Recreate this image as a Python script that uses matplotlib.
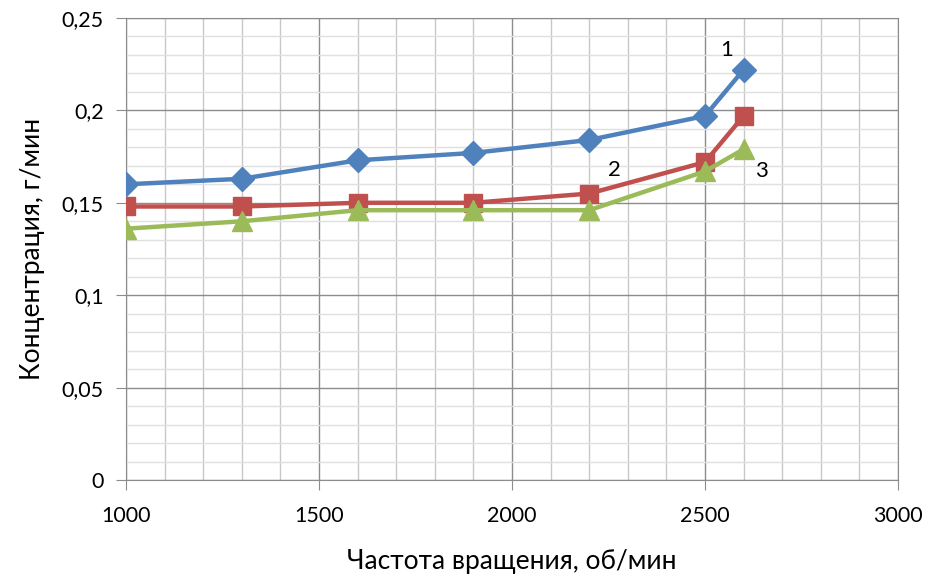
import matplotlib.pyplot as plt
from matplotlib.ticker import MultipleLocator, FuncFormatter

plt.rcParams['font.family'] = ['Lato', 'DejaVu Sans']

rpm = [1000, 1300, 1600, 1900, 2200, 2500, 2600]
conc_1 = [0.160, 0.163, 0.173, 0.177, 0.184, 0.197, 0.222]
conc_2 = [0.148, 0.148, 0.150, 0.150, 0.155, 0.172, 0.197]
conc_3 = [0.136, 0.140, 0.146, 0.146, 0.146, 0.167, 0.179]

fig = plt.figure(figsize=(9.31, 5.79), dpi=100)
ax = fig.add_axes([126 / 931, 1 - 480 / 579, (898 - 126) / 931, (480 - 18) / 579])

ax.plot(rpm, conc_1, color='#4F81BD', lw=3.2, marker='D', ms=12, zorder=3)
ax.plot(rpm, conc_2, color='#C0504D', lw=3.2, marker='s', ms=13, zorder=4)
ax.plot(rpm, conc_3, color='#9BBB59', lw=3.2, marker='^', ms=14, zorder=5)

ax.text(2555, 0.2325, '1', fontsize=16, ha='center', va='center')
ax.text(2265, 0.168, '2', fontsize=16, ha='center', va='center')
ax.text(2645, 0.167, '3', fontsize=16, ha='center', va='center')

ax.set_xlim(1000, 3000)
ax.set_ylim(0, 0.25)
ax.xaxis.set_major_locator(MultipleLocator(500))
ax.xaxis.set_minor_locator(MultipleLocator(100))
ax.yaxis.set_major_locator(MultipleLocator(0.05))
ax.yaxis.set_minor_locator(MultipleLocator(0.01))
ax.yaxis.set_major_formatter(FuncFormatter(
    lambda v, p: '0' if abs(v) < 1e-9 else f'{v:.2f}'.rstrip('0').replace('.', ',')))

ax.grid(which='major', color='#8c8c8c', lw=1.0)
ax.grid(which='minor', axis='x', color='#c8c8c8', lw=1.0)
ax.grid(which='minor', axis='y', color='#e0e0e0', lw=1.0)
ax.set_axisbelow(True)

for side in ax.spines:
    ax.spines[side].set_color('#8c8c8c')
ax.tick_params(which='major', length=7, color='#8c8c8c', labelsize=15.5)
ax.tick_params(axis='x', which='major', pad=12)
ax.tick_params(axis='y', which='major', pad=9)
ax.tick_params(which='minor', length=0)

ax.set_xlabel('Частота вращения, об/мин', fontsize=19, labelpad=16)
ax.set_ylabel('Концентрация, г/мин', fontsize=19, labelpad=12)

fig.savefig('out.png', dpi=100)
